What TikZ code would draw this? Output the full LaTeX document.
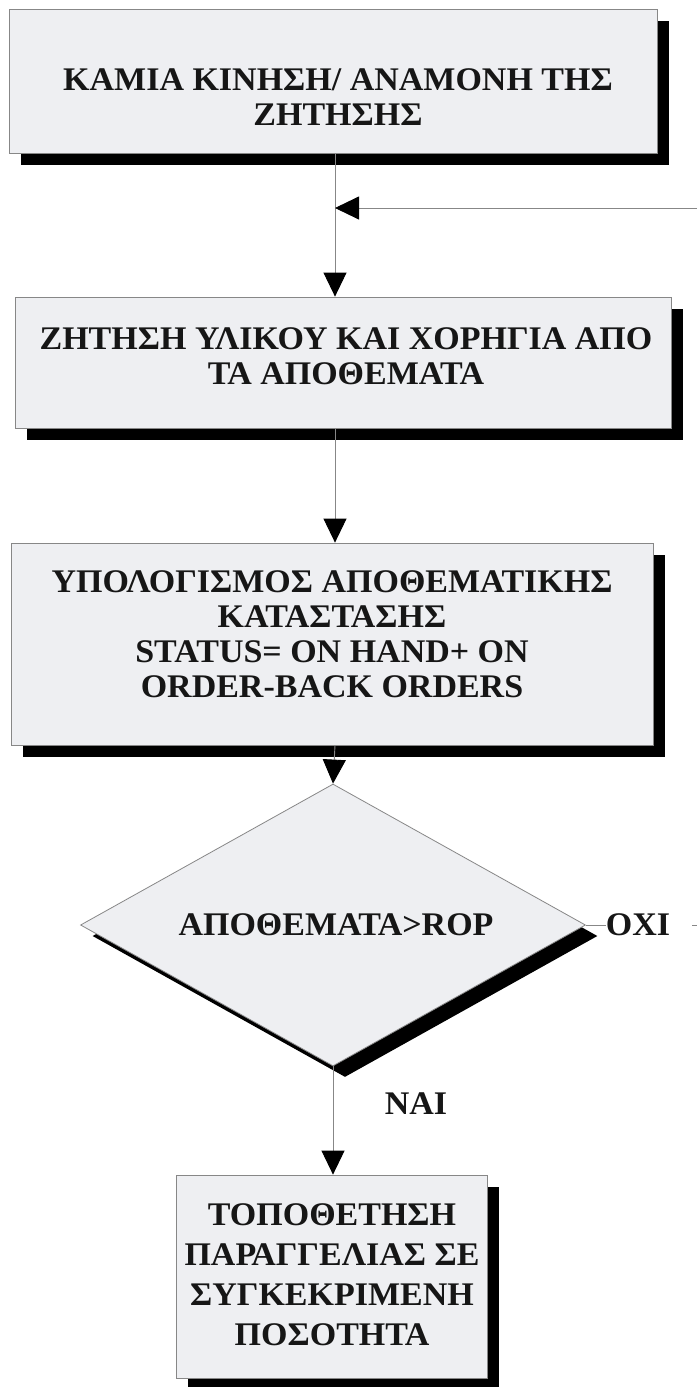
\documentclass[tikz,border=0pt]{standalone}
\usepackage{fontspec}
\setmainfont{Liberation Serif}[FakeStretch=1.03]
\usetikzlibrary{arrows.meta,shapes.geometric,shadows}
\definecolor{boxfill}{RGB}{238,239,242}
\definecolor{edge}{RGB}{135,135,135}
\definecolor{ink}{RGB}{22,22,22}
\begin{document}
\begin{tikzpicture}[x=1pt,y=-1pt,
  stepbox/.style={draw=edge, line width=0.8pt, fill=boxfill, inner sep=0pt,
    general shadow={fill=black, shadow xshift=12pt, shadow yshift=-12pt}},
  decision/.style={diamond, draw=edge, line width=0.8pt, fill=boxfill, inner sep=0pt,
    general shadow={fill=black, shadow xshift=12pt, shadow yshift=-11pt}},
  caption/.style={font=\bfseries\fontsize{33}{35}\selectfont, text=ink, align=center, inner sep=0pt},
  link/.style={draw=edge, line width=0.9pt},
  flow/.style={link, -{Triangle[length=24pt,width=23pt,fill=black,color=black]}}
]
% page
\fill[white] (0,0) rectangle (697,1387);
\useasboundingbox (0,0) rectangle (697,1387);

% process boxes
\node[stepbox, minimum width=648pt, minimum height=144pt] (b1) at (333,81) {};
\node[caption] (t1) at (338,97) {ΚΑΜΙΑ ΚΙΝΗΣΗ/ ΑΝΑΜΟΝΗ ΤΗΣ\\ΖΗΤΗΣΗΣ};

\node[stepbox, minimum width=656pt, minimum height=131pt] (b2) at (343,362.5) {};
\node[caption] (t2) at (346,356) {ΖΗΤΗΣΗ ΥΛΙΚΟΥ ΚΑΙ ΧΟΡΗΓΙΑ ΑΠΟ\\ΤΑ ΑΠΟΘΕΜΑΤΑ};

\node[stepbox, minimum width=642pt, minimum height=202pt] (b3) at (332,644) {};
\node[caption] (t3) at (332,634) {ΥΠΟΛΟΓΙΣΜΟΣ ΑΠΟΘΕΜΑΤΙΚΗΣ\\ΚΑΤΑΣΤΑΣΗΣ\\STATUS= ON HAND+ ON\\ORDER-BACK ORDERS};

% decision
\node[decision, minimum width=505pt, minimum height=282pt] (d) at (333,925) {};
\node[caption] (td) at (336,925) {ΑΠΟΘΕΜΑΤΑ>ROP};

\node[stepbox, minimum width=311pt, minimum height=203pt] (b4) at (331.5,1276.5) {};
\node[caption, font=\bfseries\fontsize{33}{40}\selectfont] (t4) at (332,1275) {ΤΟΠΟΘΕΤΗΣΗ\\ΠΑΡΑΓΓΕΛΙΑΣ ΣΕ\\ΣΥΓΚΕΚΡΙΜΕΝΗ\\ΠΟΣΟΤΗΤΑ};

% branch labels
\node[caption] (no) at (638,925) {ΟΧΙ};
\node[caption] (yes) at (416,1104) {ΝΑΙ};

% connectors
\coordinate (join) at (335,208);
\coordinate (back) at (697,208);
\coordinate (stubL) at (692,925);
\coordinate (stubR) at (697,925);

\draw[flow] (b1.south -| join) -- (b2.north -| join);
\draw[flow] (back) -- (join);
\draw[flow] (b2.south -| join) -- (b3.north -| join);
\draw[flow] (b3.south -| join) -- (d.north);
\draw[flow] (d.south) -- (b4.north -| d.south);
\draw[link] (d.east) -- (no.west);
\draw[link] (stubL) -- (stubR);
\end{tikzpicture}
\end{document}
